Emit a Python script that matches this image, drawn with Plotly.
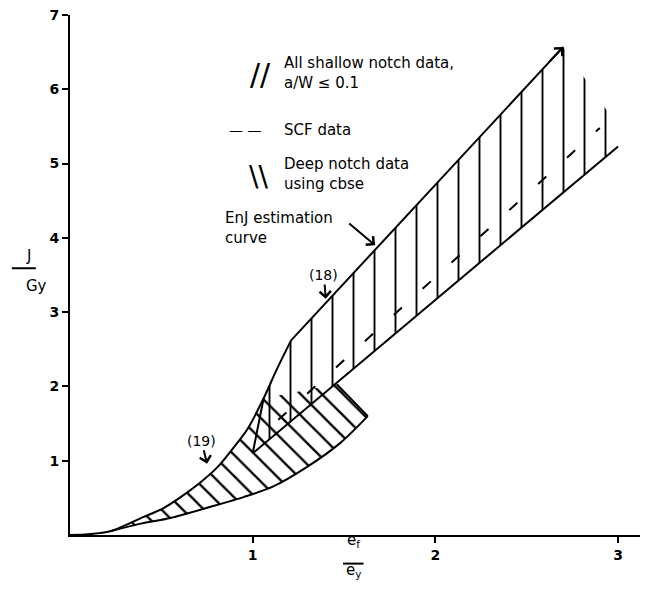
import plotly.graph_objects as go

# ── Data (x = ef/ey, y = J/Gy) ────────────────────────────────────────────────

# EnJ estimation curve, upper edge of both bands, ends in an arrow
enj_x = [0.00, 0.10, 0.22, 0.40, 0.51, 0.60, 0.71, 0.81, 0.89, 0.97, 1.06, 1.13, 1.21, 2.70]
enj_y = [0.00, 0.01, 0.05, 0.24, 0.36, 0.50, 0.70, 0.92, 1.16, 1.42, 1.84, 2.22, 2.62, 6.57]
KINK = 12  # index where the EnJ curve turns into a straight line

# deep notch band: lower edge, and where its top leaves the EnJ curve
deep_lo_x = [0.22, 0.38, 0.55, 0.77, 0.95, 1.11, 1.30, 1.48, 1.63]
deep_lo_y = [0.05, 0.15, 0.23, 0.38, 0.51, 0.65, 0.92, 1.24, 1.60]
deep_top_x = [1.06, 1.46]
deep_top_y = [1.84, 2.03]

# shallow notch band: lower edge and the ragged right-hand end
shallow_lo_x = [1.00, 3.00]
shallow_lo_y = [1.10, 5.23]
shallow_end_x = [3.00, 2.99, 2.70]
shallow_end_y = [5.23, 5.53, 6.57]

# SCF data (dashed)
scf_x = [1.14, 2.90]
scf_y = [1.55, 5.48]

x_ticks = [1, 2, 3]
y_ticks = [1, 2, 3, 4, 5, 6, 7]

INK = "black"
FONT = "DejaVu Sans"

fig = go.Figure()

# ── Hatched bands ─────────────────────────────────────────────────────────────
i0, i1 = enj_x.index(deep_lo_x[0]), enj_x.index(deep_top_x[0])
deep_px = enj_x[i0:i1 + 1] + deep_top_x[1:] + deep_lo_x[::-1]
deep_py = enj_y[i0:i1 + 1] + deep_top_y[1:] + deep_lo_y[::-1]
fig.add_trace(go.Scatter(
    x=deep_px, y=deep_py, mode="lines", fill="toself",
    line=dict(width=0, color=INK), fillcolor="rgba(0,0,0,0)",
    fillpattern=dict(shape="\\", size=15, solidity=0.15, fgcolor=INK, fgopacity=1),
    hoverinfo="skip",
))

sh_px = shallow_lo_x + shallow_end_x[1:] + enj_x[i1:KINK + 1][::-1]
sh_py = shallow_lo_y + shallow_end_y[1:] + enj_y[i1:KINK + 1][::-1]
fig.add_trace(go.Scatter(
    x=sh_px, y=sh_py, mode="lines", fill="toself",
    line=dict(width=0, color=INK), fillcolor="rgba(0,0,0,0)",
    fillpattern=dict(shape="|", size=21, solidity=0.09, fgcolor=INK, fgopacity=1),
    hoverinfo="skip",
))

# ── Outlines ──────────────────────────────────────────────────────────────────
solid = dict(color=INK, width=2)
curved = dict(color=INK, width=2, shape="spline", smoothing=0.8)
fig.add_trace(go.Scatter(x=enj_x[:KINK + 1], y=enj_y[:KINK + 1], mode="lines", line=curved))
fig.add_trace(go.Scatter(x=enj_x[KINK:], y=enj_y[KINK:], mode="lines", line=solid))
fig.add_trace(go.Scatter(x=deep_lo_x, y=deep_lo_y, mode="lines", line=curved))
fig.add_trace(go.Scatter(x=[deep_lo_x[-1], deep_top_x[-1]], y=[deep_lo_y[-1], deep_top_y[-1]],
                         mode="lines", line=solid))
fig.add_trace(go.Scatter(x=shallow_lo_x, y=shallow_lo_y, mode="lines", line=solid))
fig.add_trace(go.Scatter(x=[shallow_lo_x[0], enj_x[i1]], y=[shallow_lo_y[0], enj_y[i1]],
                         mode="lines", line=solid))
fig.add_trace(go.Scatter(x=scf_x, y=scf_y, mode="lines",
                         line=dict(color=INK, width=2, dash="11px,28px")))

# ── Arrows and labels ─────────────────────────────────────────────────────────
arrow_style = dict(showarrow=True, arrowhead=4, arrowsize=1.1, arrowwidth=2, arrowcolor=INK,
                   xref="x", yref="y", axref="x", ayref="y")

# arrow head at the end of the EnJ curve, and the pointer from its label
fig.add_annotation(x=enj_x[-1], y=enj_y[-1], ax=2.62, ay=6.36, text="", **arrow_style)
fig.add_annotation(x=1.67, y=3.90, ax=1.52, ay=4.21, text="", **arrow_style)

def pointer(text, tx, ty, hx, hy, size=14):
    """Text placed at (tx, ty) with an arrow running down to (hx, hy)."""
    fig.add_annotation(x=hx, y=hy, ax=tx, ay=ty, text=text, align="left",
                       font=dict(family=FONT, size=size, color=INK), **arrow_style)

pointer("(19)", 0.72, 1.27, 0.75, 0.96)
pointer("(18)", 1.39, 3.50, 1.40, 3.18)

def label(x, y, text, size=15, anchor="left"):
    fig.add_annotation(x=x, y=y, xref="x", yref="y", text=text, showarrow=False,
                       xanchor=anchor, yanchor="middle", align="left",
                       font=dict(family=FONT, size=size, color=INK))

label(1.04, 6.20, "//", size=30, anchor="center")
label(1.16, 6.22, "All shallow notch data,<br>a/W ≤ 0.1")
label(0.96, 5.45, "— —", size=14, anchor="center")
label(1.16, 5.45, "SCF data")
label(1.03, 4.83, "\\\\", size=28, anchor="center")
label(1.16, 4.86, "Deep notch data<br>using cbse")
label(0.84, 4.13, "EnJ estimation<br>curve")

# axis titles as stacked fractions
def frac(x, y, top, bottom, shift, x0, x1):
    fig.add_annotation(x=x, y=y, xref="paper", yref="paper", xshift=shift, yshift=12,
                       text=top, showarrow=False, font=dict(family=FONT, size=15, color=INK))
    fig.add_annotation(x=x, y=y, xref="paper", yref="paper", xshift=shift, yshift=-18,
                       text=bottom, showarrow=False, font=dict(family=FONT, size=15, color=INK))
    fig.add_shape(type="line", xref="paper", yref="paper", x0=x0, x1=x1, y0=y, y1=y,
                  line=dict(color=INK, width=2))

frac(0, 0.513, "J", "Gy", -46, -0.102, -0.060)
frac(0.497, -0.055, "e<sub>f</sub>", "e<sub>y</sub>", 0, 0.479, 0.515)

fig.update_layout(
    width=647, height=589,
    margin=dict(l=70, r=7, t=15, b=54),
    plot_bgcolor="white", paper_bgcolor="white",
    showlegend=False,
    font=dict(family=FONT, size=14, color=INK),
)
axis_style = dict(showgrid=False, zeroline=False, showline=True, linecolor=INK, linewidth=2,
                  ticks="outside", ticklen=6, tickwidth=1.5, tickcolor=INK,
                  tickfont=dict(family=FONT, size=14, color=INK, weight="bold"))
fig.update_xaxes(range=[0, 3.12], tickvals=x_ticks, **axis_style)
fig.update_yaxes(range=[0, 7], tickvals=y_ticks, **axis_style)

# page body has an 8px default margin; drop it so the figure sits at 0,0
fig.write_html("out.html", config={"displayModeBar": False},
               post_script="document.body.style.margin='0';")
